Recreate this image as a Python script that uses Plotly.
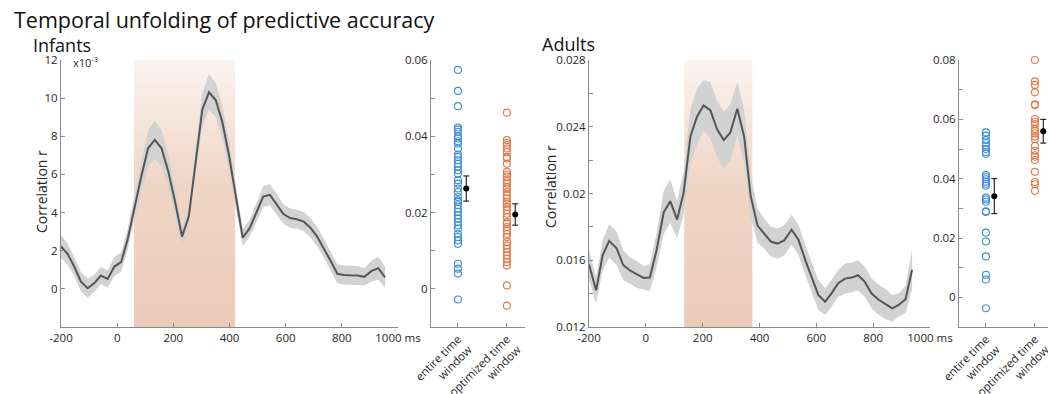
import plotly.graph_objects as go

# ---------------- data ----------------
# Infants: time course (ms) and correlation r (x10^-3) with SEM
inf_t = [-200, -176, -153, -129, -105, -81, -58, -34, -10, 14,
         37, 61, 85, 110, 134, 158, 182, 206, 231, 255,
         279, 303, 327, 351, 374, 398, 422, 447, 472, 496,
         520, 544, 568, 592, 616, 640, 664, 688, 712, 736,
         760, 784, 808, 832, 856, 880, 906, 930, 954]
inf_r = [2.22, 1.82, 1.17, 0.38, 0.03, 0.30, 0.70, 0.52, 1.17, 1.40,
         2.57, 4.23, 5.84, 7.37, 7.81, 7.37, 6.15, 4.58, 2.74, 3.79,
         6.67, 9.38, 10.31, 9.90, 8.77, 7.02, 4.90, 2.69, 3.18, 3.97,
         4.84, 4.93, 4.44, 3.92, 3.71, 3.65, 3.53, 3.21, 2.74, 2.13,
         1.47, 0.79, 0.73, 0.71, 0.70, 0.63, 0.94, 1.08, 0.60]
inf_sem = [0.60, 0.55, 0.50, 0.50, 0.50, 0.45, 0.45, 0.45, 0.50, 0.50,
           0.55, 0.60, 0.80, 0.95, 1.00, 0.95, 0.85, 0.75, 0.45, 0.45,
           0.60, 0.85, 0.95, 0.90, 0.85, 0.75, 0.60, 0.45, 0.45, 0.50,
           0.55, 0.55, 0.55, 0.50, 0.50, 0.50, 0.50, 0.50, 0.50, 0.50,
           0.50, 0.50, 0.50, 0.50, 0.50, 0.45, 0.55, 0.60, 0.55]
inf_window = [60, 420]

# Adults: time course (ms) and correlation r with SEM
ad_t = [-200, -175, -152, -129, -103, -80, -57, -31, -8, 14,
        37, 63, 86, 110, 133, 157, 180, 203, 227, 250,
        274, 297, 322, 346, 369, 393, 416, 440, 463, 487,
        513, 537, 563, 586, 607, 631, 654, 677, 701, 724,
        747, 770, 794, 817, 843, 867, 890, 914, 937]
ad_r = [0.01574, 0.0142, 0.0163, 0.01716, 0.01672, 0.01572, 0.0154, 0.01514, 0.01494, 0.01496,
        0.01654, 0.01888, 0.01954, 0.01844, 0.02004, 0.02344, 0.0246, 0.02528, 0.025, 0.02388,
        0.0232, 0.02364, 0.02508, 0.0234, 0.01984, 0.01808, 0.0176, 0.01712, 0.017, 0.01719,
        0.01783, 0.01723, 0.01592, 0.01482, 0.01392, 0.01352, 0.01403, 0.01463, 0.0149, 0.01496,
        0.0151, 0.01472, 0.01402, 0.01366, 0.01338, 0.01312, 0.01332, 0.01366, 0.01543]
ad_sem = [0.0009, 0.0008, 0.0009, 0.0010, 0.0010, 0.0009, 0.0008, 0.0008, 0.0007, 0.0008,
          0.0010, 0.0013, 0.0013, 0.0011, 0.0013, 0.0016, 0.0017, 0.0015, 0.0017, 0.0017,
          0.0017, 0.0017, 0.0016, 0.0016, 0.0013, 0.0010, 0.0009, 0.0009, 0.0009, 0.0009,
          0.0009, 0.0009, 0.0009, 0.0009, 0.0009, 0.0008, 0.0008, 0.0008, 0.0009, 0.0009,
          0.0009, 0.0009, 0.0009, 0.0009, 0.0009, 0.0008, 0.0007, 0.0008, 0.0012]
ad_window = [135, 375]

# Individual subjects
inf_entire = [0.0574, 0.0519, 0.0479, 0.0423, 0.0418, 0.0412, 0.0400, 0.0394, 0.0387, 0.0381,
              0.0368, 0.0352, 0.0346, 0.0337, 0.0328, 0.0320, 0.0311, 0.0302, 0.0285, 0.0276,
              0.0263, 0.0254, 0.0241, 0.0232, 0.0228, 0.0219, 0.0210, 0.0202, 0.0193, 0.0184,
              0.0175, 0.0166, 0.0158, 0.0144, 0.0136, 0.0127, 0.0118, 0.0066, 0.0053, 0.0040,
              -0.0028]
inf_opt = [0.0462, 0.0390, 0.0383, 0.0377, 0.0368, 0.0359, 0.0346, 0.0342, 0.0328, 0.0307,
           0.0300, 0.0294, 0.0285, 0.0276, 0.0267, 0.0263, 0.0254, 0.0245, 0.0237, 0.0228,
           0.0223, 0.0215, 0.0206, 0.0197, 0.0188, 0.0175, 0.0171, 0.0162, 0.0153, 0.0144,
           0.0136, 0.0123, 0.0114, 0.0105, 0.0096, 0.0088, 0.0079, 0.0070, 0.0061, 0.0009,
           -0.0044]
ad_entire = [0.0556, 0.0545, 0.0530, 0.0520, 0.0512, 0.0500, 0.0490, 0.0484, 0.0412, 0.0405,
             0.0398, 0.0390, 0.0383, 0.0376, 0.0336, 0.0330, 0.0322, 0.0290, 0.0288, 0.0218,
             0.0188, 0.0138, 0.0076, 0.0060, -0.0037]
ad_opt = [0.0800, 0.0728, 0.0716, 0.0691, 0.0651, 0.0648, 0.0601, 0.0592, 0.0584, 0.0567,
          0.0561, 0.0553, 0.0542, 0.0533, 0.0510, 0.0494, 0.0479, 0.0474, 0.0463, 0.0423,
          0.0389, 0.0381, 0.0359]
inf_means = [0.0263, 0.0195]
inf_errs = [0.0033, 0.0028]
ad_means = [0.0341, 0.0560]
ad_errs = [0.0059, 0.0040]

cond_pos = [1, 2]
cond_labels = ["entire time<br>window", "optimized time<br>window"]
time_ticks = [-200, 0, 200, 400, 600, 800, 1000]
time_labels = ["-200", "0", "200", "400", "600", "800", "1000 ms"]

# ---------------- styling ----------------
W, H = 1056, 394
OFF = 8  # page body margin in the browser
FONT = "Open Sans"
AXC = "#8a8a8a"
TXT = "#262626"
BLUE = "#3f8fd2"
ORANGE = "#e5784a"
BAND = "#d2d2d2"
LINE = "#555555"
PEACH_LO = "rgb(235,202,184)"
PEACH_MID = "rgb(240,214,199)"
PEACH_HI = "rgb(252,244,240)"


def px(x):
    return (x - OFF) / W


def py(y):
    return 1 - (y - OFF) / H


fig = go.Figure()


def add_timecourse(t, r, sem, window, yrange, xa, ya):
    # optimized time window (gradient shading)
    fig.add_trace(go.Scatter(
        x=[window[0], window[1], window[1], window[0], window[0]],
        y=[yrange[0], yrange[0], yrange[1], yrange[1], yrange[0]],
        fill="toself", mode="lines", line=dict(width=0, color="rgba(0,0,0,0)"),
        fillgradient=dict(type="vertical", start=yrange[0], stop=yrange[1],
                          colorscale=[[0, PEACH_LO], [0.55, PEACH_MID], [1, PEACH_HI]]),
        hoverinfo="skip", showlegend=False, xaxis=xa, yaxis=ya))
    upper = [a + b for a, b in zip(r, sem)]
    lower = [a - b for a, b in zip(r, sem)]
    fig.add_trace(go.Scatter(
        x=t + t[::-1], y=upper + lower[::-1], fill="toself", fillcolor=BAND,
        mode="lines", line=dict(width=0, color=BAND), hoverinfo="skip",
        showlegend=False, xaxis=xa, yaxis=ya))
    fig.add_trace(go.Scatter(
        x=t, y=r, mode="lines", line=dict(color=LINE, width=2),
        showlegend=False, xaxis=xa, yaxis=ya))


def add_subjects(entire, opt, means, errs, xa, ya):
    fig.add_trace(go.Scatter(
        x=[cond_pos[0]] * len(entire), y=entire, mode="markers",
        marker=dict(symbol="circle-open", size=7, color=BLUE, line=dict(width=1.1)),
        showlegend=False, xaxis=xa, yaxis=ya, cliponaxis=False))
    fig.add_trace(go.Scatter(
        x=[cond_pos[1]] * len(opt), y=opt, mode="markers",
        marker=dict(symbol="circle-open", size=7, color=ORANGE, line=dict(width=1.1)),
        showlegend=False, xaxis=xa, yaxis=ya, cliponaxis=False))
    fig.add_trace(go.Scatter(
        x=[p + 0.17 for p in cond_pos], y=means, mode="markers",
        marker=dict(symbol="circle", size=6, color="black"),
        error_y=dict(type="data", array=errs, color="black", thickness=1, width=3),
        showlegend=False, xaxis=xa, yaxis=ya))


inf_yr = [-2, 12]
ad_yr = [0.012, 0.028]
add_timecourse(inf_t, inf_r, inf_sem, inf_window, inf_yr, "x", "y")
add_subjects(inf_entire, inf_opt, inf_means, inf_errs, "x2", "y2")
add_timecourse(ad_t, ad_r, ad_sem, ad_window, ad_yr, "x3", "y3")
add_subjects(ad_entire, ad_opt, ad_means, ad_errs, "x4", "y4")

top, bot = 60, 327
ydom = [py(bot), py(top)]
tickfont = dict(family=FONT, size=11.5, color=TXT)
common = dict(showline=True, linecolor=AXC, linewidth=1, ticks="inside", ticklen=4,
              tickcolor=AXC, tickfont=tickfont, showgrid=False, zeroline=False,
              mirror=False, fixedrange=True, automargin=False)


def xt(domain, rng, **kw):
    d = dict(common)
    d.update(domain=[px(domain[0]), px(domain[1])], range=rng)
    d.update(kw)
    return d


def yt(rng, vals, texts, anchor):
    d = dict(common)
    d.update(domain=ydom, range=rng, tickmode="array", tickvals=vals, ticktext=texts,
             anchor=anchor)
    return d


inf_yvals = [0, 2, 4, 6, 8, 10, 12]
inf_ytxt = ["0", "2", "4", "6", "8", "10", "12"]
sc1_vals = [0, 0.01, 0.02, 0.03, 0.04, 0.05, 0.06]
sc1_txt = ["0", " ", "0.02", " ", "0.04", " ", "0.06"]
ad_yvals = [0.012, 0.014, 0.016, 0.018, 0.020, 0.022, 0.024, 0.026, 0.028]
ad_ytxt = ["0.012", " ", "0.016", " ", "0.02", " ", "0.024", " ", "0.028"]
sc2_vals = [0, 0.01, 0.02, 0.03, 0.04, 0.05, 0.06, 0.07, 0.08]
sc2_txt = ["0", " ", "0.02", " ", "0.04", " ", "0.06", " ", "0.08"]

fig.update_layout(
    width=W, height=H, autosize=False,
    margin=dict(l=0, r=0, t=0, b=0, autoexpand=False),
    paper_bgcolor="white", plot_bgcolor="rgba(0,0,0,0)",
    font=dict(family=FONT, color=TXT),
    xaxis=xt([61, 398], [-200, 1000], tickmode="array", tickvals=time_ticks,
             ticktext=time_labels, anchor="y"),
    yaxis=yt(inf_yr, inf_yvals, inf_ytxt, "x"),
    xaxis2=xt([431, 525], [0.45, 2.37], tickmode="array", tickvals=cond_pos,
              ticktext=cond_labels, tickangle=-45, anchor="y2"),
    yaxis2=yt([-0.01, 0.06], sc1_vals, sc1_txt, "x2"),
    xaxis3=xt([589, 930], [-200, 1000], tickmode="array", tickvals=time_ticks,
              ticktext=time_labels, anchor="y3"),
    yaxis3=yt(ad_yr, ad_yvals, ad_ytxt, "x3"),
    xaxis4=xt([959, 1056], [0.45, 2.43], tickmode="array", tickvals=cond_pos,
              ticktext=cond_labels, tickangle=-45, anchor="y4"),
    yaxis4=yt([-0.01, 0.08], sc2_vals, sc2_txt, "x4"),
    showlegend=False,
)

ann = [
    dict(text="Temporal unfolding of predictive accuracy", x=px(12), y=py(20),
         font=dict(family=FONT, size=21.5, color="#111111")),
    dict(text="Infants", x=px(31), y=py(45), font=dict(family=FONT, size=18, color="#111111")),
    dict(text="Adults", x=px(540), y=py(44), font=dict(family=FONT, size=18, color="#111111")),
    dict(text="x10<sup>-3</sup>", x=px(71), y=py(62), font=dict(family=FONT, size=11, color=TXT)),
]
for a in ann:
    a.update(xref="paper", yref="paper", xanchor="left", yanchor="middle", showarrow=False)
    fig.add_annotation(**a)

for xpos, ypos in [(41, 192), (550, 187)]:
    fig.add_annotation(text="Correlation r", x=px(xpos), y=py(ypos), xref="paper", yref="paper",
                       textangle=-90, showarrow=False, xanchor="center", yanchor="middle",
                       font=dict(family=FONT, size=14, color=TXT))

fig.write_html("out.html")
